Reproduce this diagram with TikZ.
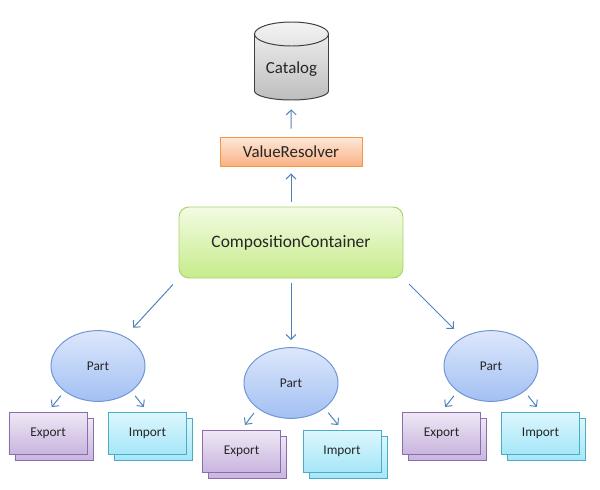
\documentclass[tikz,border=0pt]{standalone}
\usepackage{fontspec}
\setmainfont{Carlito}
\usepackage{xcolor}
\usetikzlibrary{shapes,arrows.meta,positioning,shadows,calc}

\definecolor{arrowblue}{HTML}{4F81BD}
\definecolor{cattop}{HTML}{F4F4F4}
\definecolor{catbot}{HTML}{BDBDBD}
\definecolor{catline}{HTML}{3F3F3F}
\definecolor{resolvertop}{HTML}{FDE9DA}
\definecolor{resolverbot}{HTML}{FAB084}
\definecolor{resolverline}{HTML}{F79646}
\definecolor{containertop}{HTML}{F3FBE3}
\definecolor{containerbot}{HTML}{C6EC8A}
\definecolor{containerline}{HTML}{A9D46F}
\definecolor{parttop}{HTML}{DDE7FB}
\definecolor{partbot}{HTML}{A2C0F3}
\definecolor{partline}{HTML}{6F95D5}
\definecolor{exporttop}{HTML}{EFE8F5}
\definecolor{exportbot}{HTML}{C9B5DE}
\definecolor{exportline}{HTML}{8A6DAE}
\definecolor{importtop}{HTML}{DDF7FD}
\definecolor{importbot}{HTML}{A6E6F8}
\definecolor{importline}{HTML}{4BACC6}

\begin{document}
\begin{tikzpicture}[
    catalog_text/.style={rectangle, minimum width=1.85cm, minimum height=1.95cm, inner sep=0pt, text height=0.75cm, text depth=0.146cm, text=black!85, font=\fontsize{12}{14}\selectfont},
    catalog_line/.style={draw=catline, line width=0.7pt},
    resolver/.style={rectangle, draw=resolverline, top color=resolvertop, bottom color=resolverbot, minimum width=3.55cm, minimum height=0.725cm, line width=0.7pt, text=black!85, font=\fontsize{12}{14}\selectfont},
    container/.style={rectangle, rounded corners=0.25cm, draw=containerline, top color=containertop, bottom color=containerbot, minimum width=5.6cm, minimum height=1.775cm, line width=0.7pt, text=black!85, font=\fontsize{12.4}{14}\selectfont},
    part/.style={ellipse, draw=partline, top color=parttop, bottom color=partbot, minimum width=2.35cm, minimum height=1.77cm, inner sep=0pt, line width=0.7pt, text=black!85, font=\fontsize{9.5}{11}\selectfont},
    export_box/.style={rectangle, draw=exportline, top color=exporttop, bottom color=exportbot, minimum width=1.95cm, minimum height=1.05cm, line width=0.7pt, text=black!85, font=\fontsize{9.5}{11}\selectfont,
        copy shadow={shadow xshift=0.15cm, shadow yshift=-0.15cm, draw=exportline, line width=0.7pt, top color=exporttop, bottom color=exportbot}},
    import_box/.style={rectangle, draw=importline, top color=importtop, bottom color=importbot, minimum width=1.95cm, minimum height=1.05cm, line width=0.7pt, text=black!85, font=\fontsize{9.5}{11}\selectfont,
        copy shadow={shadow xshift=0.15cm, shadow yshift=-0.15cm, draw=importline, line width=0.7pt, top color=importtop, bottom color=importbot}},
    arrow/.style={line width=0.7pt, draw=arrowblue, -{Straight Barb[length=3.5pt,width=7pt]}}
]
\useasboundingbox (0,0) rectangle (15,12.225);

% the catalog cylinder
\draw[catalog_line, top color=cattop, bottom color=catbot] (6.3625,11.375) -- (6.3625,9.95) arc[start angle=180, end angle=360, x radius=0.925, y radius=0.225] -- (8.2125,11.375) arc[start angle=0, end angle=180, x radius=0.925, y radius=0.3] -- cycle;
\draw[catalog_line] (6.3625,11.375) arc[start angle=180, end angle=360, x radius=0.925, y radius=0.3];
\node[catalog_text] (catalog) at (7.2875,10.7) {Catalog};

\node[resolver] (resolver) at (7.275,8.4375) {ValueResolver};
\node[container] (container) at (7.275,6.1625) {CompositionContainer};

\node[part] (partL) at (2.45,3.075) {Part};
\node[part] (partM) at (7.275,2.65) {Part};
\node[part] (partR) at (12.275,3.075) {Part};

\node[export_box] (exportL) at (1.2,1.4) {Export};
\node[import_box] (importL) at (3.6875,1.4) {Import};
\node[export_box] (exportM) at (6.0375,0.95) {Export};
\node[import_box] (importM) at (8.55,0.95) {Import};
\node[export_box] (exportR) at (11.0375,1.4) {Export};
\node[import_box] (importR) at (13.5125,1.4) {Import};

\draw[arrow, shorten <=0.2cm, shorten >=0.225cm] (resolver) -- (catalog);
\draw[arrow, shorten <=0.125cm, shorten >=0.175cm] (container) -- (resolver);

\draw[arrow, shorten <=0.2cm, shorten >=0.3cm] (container.south west) -- (partL);
\draw[arrow, shorten <=0.125cm, shorten >=0.175cm] (container) -- (partM);
\draw[arrow, shorten <=0.2cm, shorten >=0.3cm] (container.south east) -- (partR);

\draw[arrow, shorten <=0.14cm, shorten >=0.145cm] (partL.south west) -- (exportL.north);
\draw[arrow, shorten <=0.14cm, shorten >=0.145cm] (partL.south east) -- (importL.north);
\draw[arrow, shorten <=0.14cm, shorten >=0.145cm] (partM.south west) -- (exportM.north);
\draw[arrow, shorten <=0.14cm, shorten >=0.145cm] (partM.south east) -- (importM.north);
\draw[arrow, shorten <=0.14cm, shorten >=0.145cm] (partR.south west) -- (exportR.north);
\draw[arrow, shorten <=0.14cm, shorten >=0.145cm] (partR.south east) -- (importR.north);

\end{tikzpicture}
\end{document}
